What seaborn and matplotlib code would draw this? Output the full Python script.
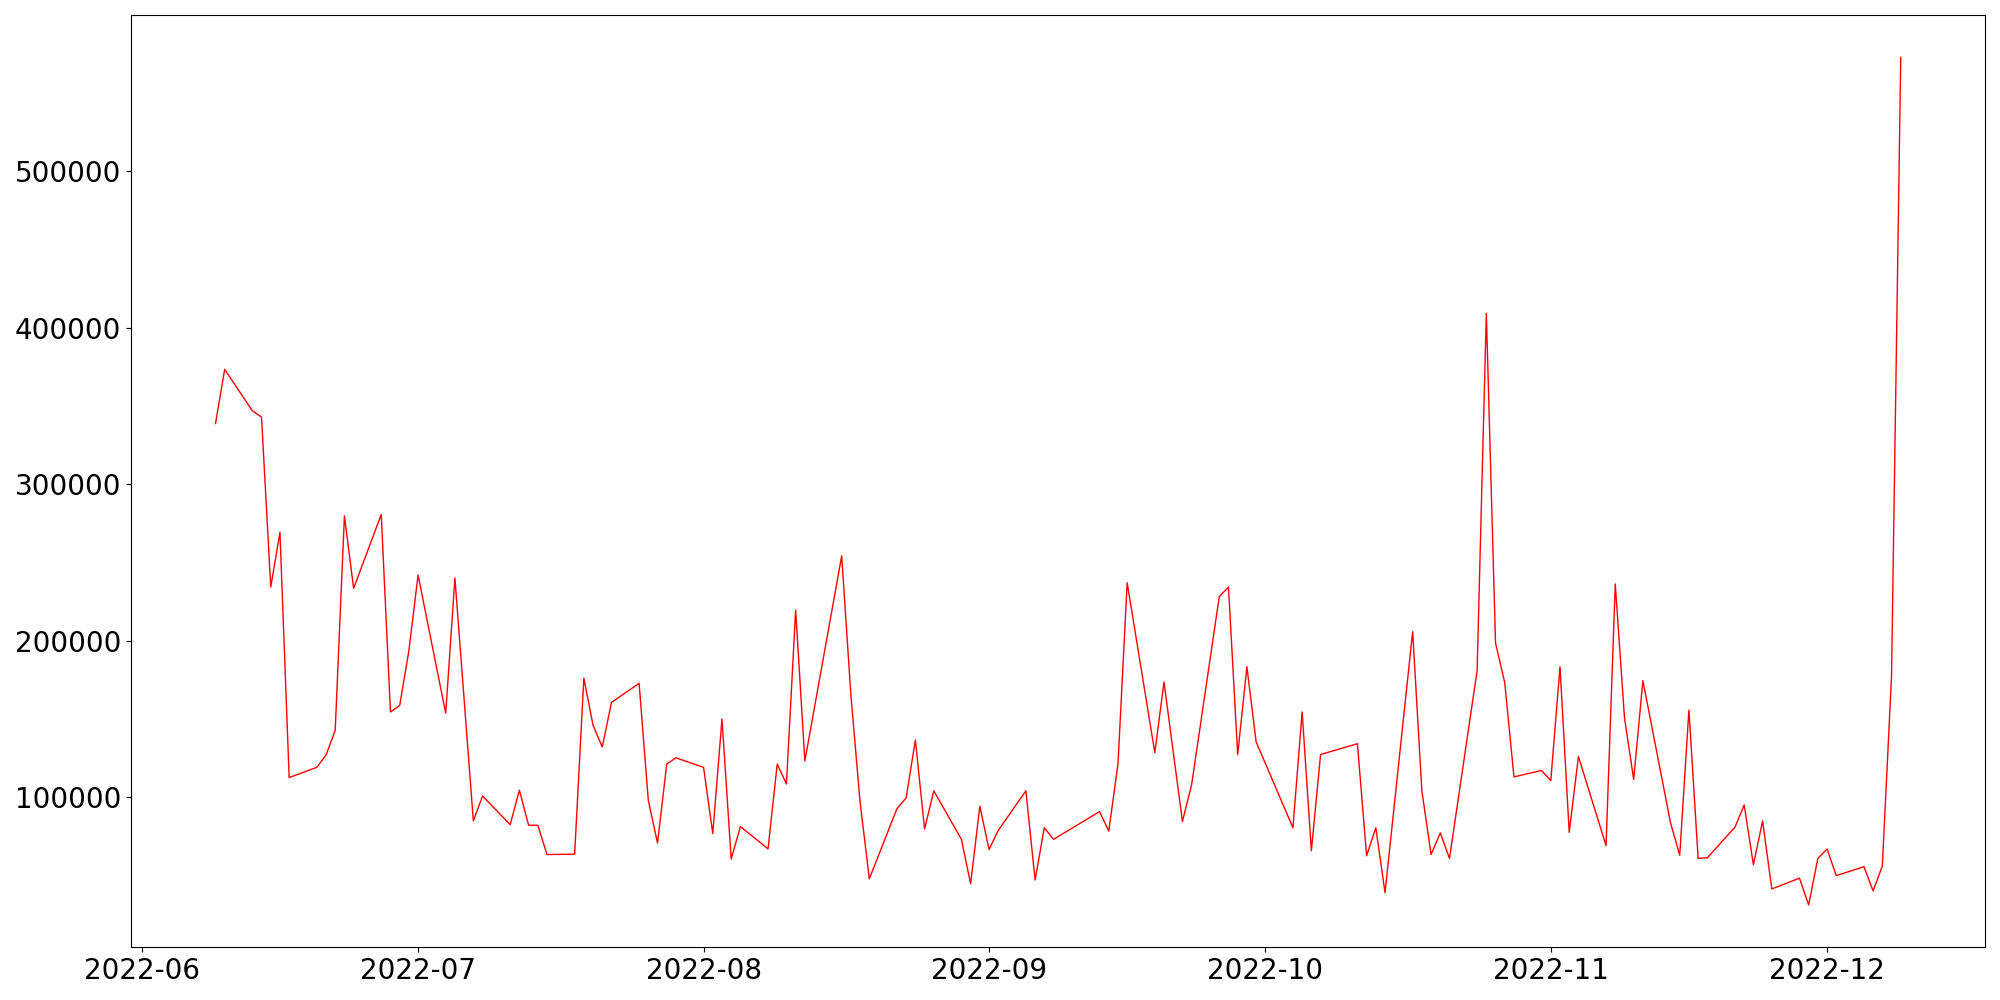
import pandas as pd
import matplotlib
matplotlib.use('Agg')
import matplotlib.pyplot as plt
import seaborn as sns

# даты торгов и значения
dates = ['2022-06-09', '2022-06-10', '2022-06-13', '2022-06-14', '2022-06-15', '2022-06-16',
         '2022-06-17', '2022-06-20', '2022-06-21', '2022-06-22', '2022-06-23', '2022-06-24',
         '2022-06-27', '2022-06-28', '2022-06-29', '2022-06-30', '2022-07-01', '2022-07-04',
         '2022-07-05', '2022-07-07', '2022-07-08', '2022-07-11', '2022-07-12', '2022-07-13',
         '2022-07-14', '2022-07-15', '2022-07-18', '2022-07-19', '2022-07-20', '2022-07-21',
         '2022-07-22', '2022-07-25', '2022-07-26', '2022-07-27', '2022-07-28', '2022-07-29',
         '2022-08-01', '2022-08-02', '2022-08-03', '2022-08-04', '2022-08-05', '2022-08-08',
         '2022-08-09', '2022-08-10', '2022-08-11', '2022-08-12', '2022-08-16', '2022-08-17',
         '2022-08-18', '2022-08-19', '2022-08-22', '2022-08-23', '2022-08-24', '2022-08-25',
         '2022-08-26', '2022-08-29', '2022-08-30', '2022-08-31', '2022-09-01', '2022-09-02',
         '2022-09-05', '2022-09-06', '2022-09-07', '2022-09-08', '2022-09-13', '2022-09-14',
         '2022-09-15', '2022-09-16', '2022-09-19', '2022-09-20', '2022-09-22', '2022-09-23',
         '2022-09-26', '2022-09-27', '2022-09-28', '2022-09-29', '2022-09-30', '2022-10-04',
         '2022-10-05', '2022-10-06', '2022-10-07', '2022-10-11', '2022-10-12', '2022-10-13',
         '2022-10-14', '2022-10-17', '2022-10-18', '2022-10-19', '2022-10-20', '2022-10-21',
         '2022-10-24', '2022-10-25', '2022-10-26', '2022-10-27', '2022-10-28', '2022-10-31',
         '2022-11-01', '2022-11-02', '2022-11-03', '2022-11-04', '2022-11-07', '2022-11-08',
         '2022-11-09', '2022-11-10', '2022-11-11', '2022-11-14', '2022-11-15', '2022-11-16',
         '2022-11-17', '2022-11-18', '2022-11-21', '2022-11-22', '2022-11-23', '2022-11-24',
         '2022-11-25', '2022-11-28', '2022-11-29', '2022-11-30', '2022-12-01', '2022-12-02',
         '2022-12-05', '2022-12-06', '2022-12-07', '2022-12-08', '2022-12-09']

values = [338800, 373400, 347000, 342900, 234300, 269300,
          112600, 119100, 126900, 142700, 279800, 233500,
          280700, 154500, 158600, 193600, 242000, 153700,
          240000, 84900, 100800, 82500, 104500, 82100,
          82100, 63400, 63600, 176100, 146000, 132100,
          160600, 172800, 98000, 70700, 121200, 125200,
          119100, 76800, 150000, 60500, 81300, 67000,
          121200, 108500, 219600, 123200, 254200, 165100,
          96700, 47900, 92700, 99600, 136600, 79700,
          104100, 73100, 44700, 94300, 66600, 78800,
          104100, 47100, 80500, 73100, 90800, 78400,
          121100, 237100, 128500, 173600, 84500, 108100,
          228200, 234300, 127300, 183400, 135400, 80500,
          154500, 65800, 127300, 134200, 62600, 80500,
          39000, 205800, 104100, 63400, 77200, 60900,
          181000, 409200, 198500, 173200, 113000, 117100,
          110600, 183400, 77600, 126000, 69100, 236300,
          150900, 111400, 174500, 83700, 63000, 155700,
          60900, 61300, 80900, 95100, 56900, 84900,
          41400, 48300, 31200, 60900, 66900, 49900,
          55600, 40200, 56000, 177300, 572800]

df = pd.DataFrame({'date': pd.to_datetime(dates), 'value': values})

fig, ax = plt.subplots(figsize=(20, 10))
sns.lineplot(data=df, x='date', y='value', color='red', linewidth=1, ax=ax)

ax.set_xlabel('')
ax.set_ylabel('')
ax.tick_params(labelsize=20)

plt.tight_layout()
plt.savefig('out.png', dpi=100)
